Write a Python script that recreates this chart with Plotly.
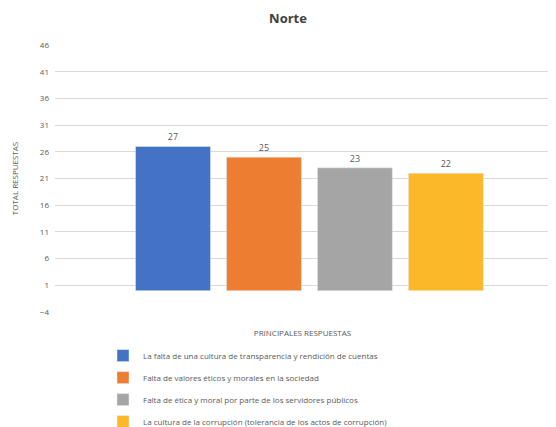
import plotly.graph_objects as go

category = ["PRINCIPALES RESPUESTAS"]
series_names = [
    "La falta de una cultura de transparencia y rendición de cuentas",
    "Falta de valores éticos y morales en la sociedad",
    "Falta de ética y moral por parte de los servidores públicos",
    "La cultura de la corrupción (tolerancia de los actos de corrupción)",
]
values = [27, 25, 23, 22]
colors = ["#4472C4", "#ED7D31", "#A5A5A5", "#FBB829"]
tick_vals = [-4, 1, 6, 11, 16, 21, 26, 31, 36, 41, 46]

fig = go.Figure()
for i, (name, v, c) in enumerate(zip(series_names, values, colors)):
    fig.add_trace(go.Bar(
        x=category, y=[v], name=name, marker_color=c,
        text=[str(v)], textposition="outside",
        textfont=dict(size=9, color="#595959"),
        cliponaxis=False, legendgroup=str(i),
    ))

fig.update_layout(
    width=548, height=419,
    margin=dict(l=47, r=6, t=37, b=115),
    paper_bgcolor="white", plot_bgcolor="white",
    font=dict(family="Open Sans, DejaVu Sans, sans-serif", color="#595959", size=8),
    title=dict(text="<b>Norte</b>", xref="container", x=0.511, xanchor="center",
               yref="container", y=0.976, yanchor="middle",
               font=dict(size=13, color="#404040")),
    barmode="group", bargap=0.265, bargroupgap=0.176,
    showlegend=True,
    legend=dict(orientation="v", x=0.097, xanchor="left", yref="container",
                y=0.205, yanchor="top",
                font=dict(size=8, color="#595959"), tracegroupgap=3,
                itemwidth=30),
    xaxis=dict(showgrid=False, showline=False, ticks="", automargin=False,
               showticklabels=False, range=[-0.514, 0.486],
               title=dict(text="PRINCIPALES RESPUESTAS", font=dict(size=8, color="#595959"),
                          standoff=18)),
    yaxis=dict(range=[-4, 46], tickvals=tick_vals, showgrid=True, gridcolor="#D9D9D9",
               zeroline=False, automargin=False, ticklabelstandoff=5,
               tickfont=dict(size=8, color="#595959"),
               title=dict(text="TOTAL RESPUESTAS", font=dict(size=8, color="#595959"), standoff=20)),
)

fig.write_html("out.html")
